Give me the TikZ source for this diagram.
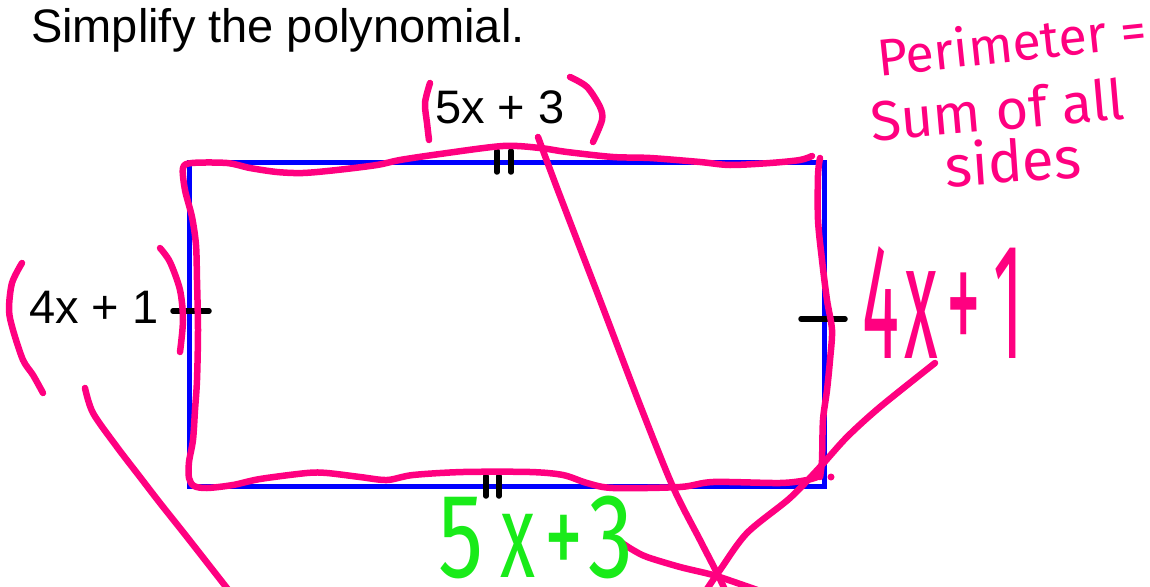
\documentclass[tikz,border=0pt]{standalone}
\usepackage{fontspec}
\setmainfont{Liberation Sans}
\newfontfamily\hand{Fira Sans}
\usepackage{graphicx}
\definecolor{pk}{RGB}{255,0,128}
\definecolor{gr}{RGB}{25,235,25}
\definecolor{bl}{RGB}{0,0,255}
\newcommand\narrowglyph[2]{\scalebox{#1}[1]{#2}}
\begin{document}
\begin{tikzpicture}[x=1pt,y=-1pt,
  pen/.style={pk,line width=6.5pt,line cap=round,line join=round},
  tickmark/.style={black,line width=5.5pt,line cap=round},
  print/.style={inner sep=0pt,outer sep=0pt,anchor=base west,font=\fontsize{47}{50}\selectfont},
  hw/.style={inner sep=0pt,outer sep=0pt,anchor=base west,text=pk,font=\hand},
  hwg/.style={inner sep=0pt,outer sep=0pt,anchor=base west,text=gr,font=\hand}]
\path[fill=white,use as bounding box] (0,0) rectangle (1150,586);
% rectangle
\draw[bl,line width=5pt] (189,162) rectangle (824,486);
% tick marks
\draw[tickmark] (497,151) -- (497,172);
\draw[tickmark] (511,151) -- (511,172);
\draw[tickmark] (486,476) -- (486,496);
\draw[tickmark] (499,476) -- (499,496);
\draw[tickmark] (173,311) -- (209,311);
\draw[tickmark] (801,319) -- (845,319);
% printed text
\node[print] (title) at (31,43) {Simplify the polynomial.};
\node[print] (lenTop) at (435,123) {5x + 3};
\node[print] (lenLeft) at (29,323) {4x + 1};
% pink tracing of the rectangle
\draw[pen] plot[smooth] coordinates {(812,156) (800,160) (770,163) (730,165) (700,162) (650,158) (613,157) (567,152) (540,148) (503,146) (440,154) (400,160) (377,165) (337,170) (303,173) (277,172) (250,168) (227,163) (192,163) (183,168) (185,190) (192,217) (196,245) (197,280) (198,330) (197,380) (195,410) (193,440) (189,462) (189,478) (194,486) (207,488) (233,485) (260,479) (307,473) (327,473) (360,477) (387,480) (413,475) (463,472) (530,472) (563,475) (587,483) (613,488) (680,487) (713,482) (780,483) (807,480) (820,476)};
\draw[pen] plot[smooth] coordinates {(820,158) (818,175) (818,220) (822,260) (827,300) (832,330) (830,360) (827,390) (823,420) (822,460) (820,477)};
\fill[pk] (831,477) circle (3.5);
% pink crossing strokes
\draw[pen] plot[smooth] coordinates {(538,137) (557,188) (600,300) (640,405) (673,487) (700,540) (717,573) (726,592)};
\draw[pen] plot[smooth] coordinates {(935,363) (880,407) (847,437) (820,467) (790,498) (747,533) (720,570) (705,592)};
\draw[pen] plot[smooth] coordinates {(622,543) (633,550) (647,557) (680,567) (713,575) (743,585) (760,591)};
\draw[pen] plot[smooth] coordinates {(85,388) (93,413) (117,447) (140,477) (160,503) (187,537) (230,592)};
% parentheses
\draw[pen] plot[smooth] coordinates {(22,263) (12,283) (9,310) (13,330) (23,360) (33,375) (43,393)};
\draw[pen] plot[smooth] coordinates {(160,248) (170,262) (180,290) (183,320) (180,352)};
\draw[pen] plot[smooth] coordinates {(430,83) (425,103) (427,123) (429,140)};
\draw[pen] plot[smooth] coordinates {(570,77) (587,87) (600,107) (602,120) (593,142)};
% handwritten text
\node[hw,rotate=6] (perim) at (879,76) {\fontsize{52}{52}\selectfont Perimeter =};
\node[hw,rotate=5] (sumall) at (872,141) {\fontsize{56}{56}\selectfont Sum of all};
\node[hw,rotate=4] (sides) at (946,187) {\fontsize{58}{58}\selectfont sides};
\node[hw] (rhs) at (862,358) {\fontsize{165}{165}\selectfont\narrowglyph{0.42}{4}\hspace{6pt}\narrowglyph{0.42}{x}\hspace{8pt}\narrowglyph{0.42}{+}\hspace{12pt}\narrowglyph{0.42}{1}};
\node[hwg] (bot) at (438,577) {\fontsize{120}{120}\selectfont\narrowglyph{0.75}{5}\hspace{17pt}\narrowglyph{0.6}{x}\hspace{9pt}\narrowglyph{0.65}{+}\hspace{6pt}\narrowglyph{0.75}{3}};
\end{tikzpicture}
\end{document}
